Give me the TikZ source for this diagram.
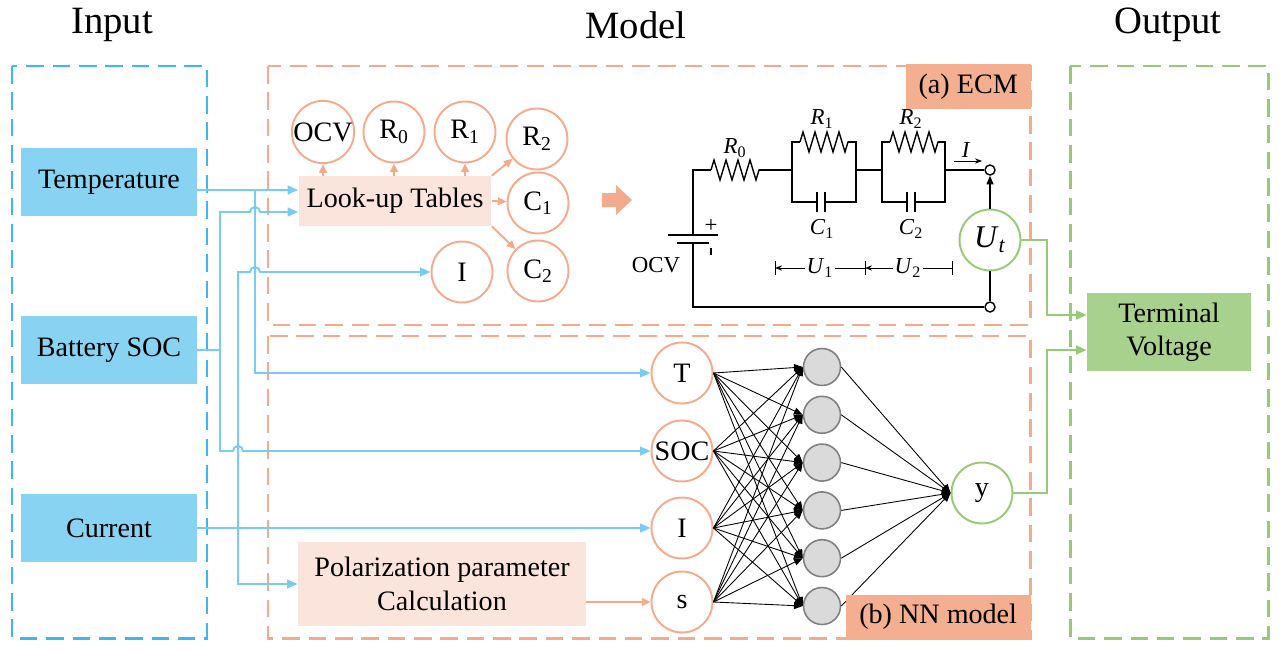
\documentclass[tikz,border=0pt]{standalone}
\usepackage{fontspec}
\setmainfont{Liberation Serif}
\usetikzlibrary{arrows.meta, positioning, calc, decorations.pathmorphing}

\definecolor{inblue}{RGB}{137,211,242}
\definecolor{inwire}{RGB}{120,204,242}
\definecolor{inframe}{RGB}{62,182,240}
\definecolor{mdframe}{RGB}{244,170,140}
\definecolor{mdfill}{RGB}{251,228,219}
\definecolor{mdtag}{RGB}{244,174,144}
\definecolor{outfill}{RGB}{169,209,142}
\definecolor{outwire}{RGB}{150,202,118}
\definecolor{neurongray}{RGB}{218,218,218}

\begin{document}
\begin{tikzpicture}[x=0.02cm, y=-0.02cm,
        font=\fontsize{16}{19}\selectfont,
        heading/.style={font=\fontsize{22}{26}\selectfont},
        region/.style={line width=1.7pt, dash pattern=on 10pt off 5pt},
        input box/.style={fill=inblue, minimum width=3.52cm, minimum height=1.36cm},
        calc box/.style={fill=mdfill, align=center, inner sep=0pt},
        model tag/.style={fill=mdtag, inner sep=0pt, minimum height=0.9cm},
        param/.style={circle, draw=mdframe, line width=1.1pt, minimum size=1.22cm, inner sep=0pt},
        neuron/.style={circle, draw=gray, fill=neurongray, line width=0.9pt, minimum size=0.74cm},
        output node/.style={circle, draw=outwire, line width=1.1pt, fill=white, minimum size=1.22cm, inner sep=0pt},
        feed/.style={draw=inwire, line width=1.1pt, -{Triangle[length=6pt, width=5pt]}},
        lookup/.style={draw=mdframe, line width=1.1pt, -{Triangle[length=5pt, width=4.5pt]}},
        synapse/.style={line width=0.5pt, -{Triangle[length=5pt, width=4pt]}},
        result/.style={draw=outwire, line width=1.1pt, -{Triangle[length=6pt, width=5pt]}},
        wire/.style={line width=0.8pt},
        resistor/.style={wire, decorate, decoration={zigzag, amplitude=0.2cm, segment length=0.24cm}},
        elem/.style={font=\fontsize{13}{15}\selectfont, inner sep=1pt}]

    \useasboundingbox (0,0) rectangle (1280,652);

    % Column headings
    \node[heading] (hin) at (112,25) {Input};
    \node[heading] (hmodel) at (636,25) {Model};
    \node[heading] (hout) at (1168,25) {Output};

    % Dashed frames
    \draw[region, draw=inframe] (12,66) rectangle (207,638);
    \draw[region, draw=mdframe] (268,66) rectangle (1030,325);
    \draw[region, draw=mdframe] (268,336) rectangle (1030,638);
    \draw[region, draw=outwire] (1070,66) rectangle (1268,638);

    % Inputs
    \node[input box] (temp) at (109,182) {Temperature};
    \node[input box] (soc) at (109,350) {Battery SOC};
    \node[input box] (cur) at (109,528) {Current};

    % Look-up tables and parameters
    \node[calc box, minimum width=3.86cm, minimum height=1cm] (lut) at (395,201) {Look-up Tables};
    \node[param] (pocv) at (323,132) {OCV};
    \node[param] (pr0) at (394,132) {R\textsubscript{0}};
    \node[param] (pr1) at (465,132) {R\textsubscript{1}};
    \node[param] (pr2) at (537,139) {R\textsubscript{2}};
    \node[param] (pc1) at (538,203) {C\textsubscript{1}};
    \node[param] (pc2) at (538,271) {C\textsubscript{2}};
    \node[param] (pi) at (462,272) {I};
    \foreach \p in {pocv,pr0,pr1}
        \draw[lookup] (lut.north -| \p) -- (\p.south);
    \draw[lookup] (lut.north east) -- (pr2);
    \draw[lookup] (lut.east) -- (pc1);
    \draw[lookup] (lut.south east) -- (pc2);

    % Block arrow to the circuit
    \fill[mdframe] (602,193) -- (616,193) -- (616,185) -- (632,200) -- (616,215) -- (616,207) -- (602,207) -- cycle;

    % Equivalent circuit
    \draw[wire] (693,235) -- (693,170) -- (711,170);
    \draw[resistor] (711,170) -- (759,170);
    \draw[wire] (759,170) -- (792,170);
    \draw[wire] (800,142) -- (792,142) -- (792,202) -- (817,202);
    \draw[resistor] (800,142) -- (848,142);
    \draw[wire] (848,142) -- (856,142) -- (856,202) -- (825,202);
    \draw[wire] (856,170) -- (882,170);
    \draw[wire] (890,142) -- (882,142) -- (882,202) -- (907,202);
    \draw[resistor] (890,142) -- (938,142);
    \draw[wire] (938,142) -- (945,142) -- (945,202) -- (915,202);
    \foreach \x in {817,825,907,915}
        \draw[wire] (\x,192) -- (\x,212);
    \draw[line width=1.6pt] (668,235) -- (718,235);
    \draw[line width=1.6pt] (677,243) -- (709,243);
    \draw[wire] (711,248) -- (711,255);
    \node[elem] (plus) at (711,226) {+};
    \node[elem] (locv) at (656,265) {OCV};
    \node[elem] (lr0) at (735,148) {\textit{R}\textsubscript{0}};
    \node[elem] (lr1) at (822,119) {\textit{R}\textsubscript{1}};
    \node[elem] (lr2) at (911,119) {\textit{R}\textsubscript{2}};
    \node[elem] (lc1) at (822,229) {\textit{C}\textsubscript{1}};
    \node[elem] (lc2) at (911,229) {\textit{C}\textsubscript{2}};
    \node[circle, draw, wire, fill=white, minimum size=0.2cm, inner sep=0pt] (tp) at (990,170) {};
    \node[circle, draw, wire, fill=white, minimum size=0.2cm, inner sep=0pt] (tn) at (990,307) {};
    \draw[wire] (945,170) -- (tp);
    \draw[wire] (693,243) -- (693,307) -- (tn);
    \node[output node, font=\fontsize{18}{21}\selectfont] (ut) at (990,240) {\textit{U}\textsubscript{\textit{t}}};
    \draw[wire, -{Triangle[length=5pt, width=4pt]}] (ut) -- (tp);
    \draw[wire] (ut) -- (tn);
    \node[elem] (lcur) at (966,150) {\textit{I}};
    \draw[line width=0.5pt, -{Stealth[length=4pt]}] (954,161) -- (982,161);

    % Polarization voltages
    \node[elem] (lu1) at (820,268) {\textit{U}\textsubscript{1}};
    \node[elem] (lu2) at (908,268) {\textit{U}\textsubscript{2}};
    \draw[line width=0.5pt, -{Stealth[length=4pt]}] (lu1.west) -- (775,268);
    \draw[line width=0.5pt] (lu1.east) -- (865,268);
    \draw[line width=0.5pt, -{Stealth[length=4pt]}] (lu2.west) -- (865,268);
    \draw[line width=0.5pt] (lu2.east) -- (952,268);
    \foreach \x in {775,865,952}
        \draw[line width=0.5pt] (\x,261) -- (\x,275);

    % Neural network
    \node[param] (nt) at (682,373) {T};
    \node[param] (nsoc) at (682,451) {SOC};
    \node[param] (ni) at (682,528) {I};
    \node[param] (ns) at (682,602) {s};
    \foreach \k in {1,...,6}
        \node[neuron] (h\k) at (822,{367+47.8*(\k-1)}) {};
    \node[output node] (ny) at (982,493) {y};
    \foreach \a in {nt,nsoc,ni,ns}
        \foreach \k in {1,...,6}
            \draw[synapse] (\a.east) -- (h\k.west);
    \foreach \k in {1,...,6}
        \draw[synapse] (h\k.east) -- (ny.west);

    \node[calc box, minimum width=5.76cm, minimum height=1.68cm] (pol) at (442,584) {Polarization parameter\\Calculation};
    \draw[lookup] (pol.east |- ns) -- (ns);

    % Input wiring
    \coordinate (tj) at (255,190);
    \coordinate (sj) at (220,350);
    \coordinate (cj) at (238,528);
    \coordinate (sl) at (220,212);
    \draw[feed] (temp.east |- tj) -- (lut.west |- tj);
    \draw[feed] (tj) |- (nt);
    \draw[feed, -] (soc.east) -- (sj);
    \draw[feed] (sj) -- (sl) -- ++(30,0) arc[start angle=180, end angle=360, radius=5] -- (lut.west |- sl);
    \draw[feed] (sj) -- (sj |- nsoc) -- ++(13,0) arc[start angle=180, end angle=360, radius=5] -- (nsoc);
    \draw[feed] (cur.east) -- (ni);
    \draw[feed] (cj) -- (cj |- pi) -- ++(12,0) arc[start angle=180, end angle=360, radius=5] -- (pi);
    \draw[feed] (cj) |- (pol);

    % Terminal voltage
    \node[fill=outfill, minimum width=3.28cm, minimum height=1.58cm, align=center] (term) at (1169,332) {Terminal\\Voltage};
    \coordinate (gx) at (1047,0);
    \draw[result] (ut.east) -- (ut.east -| gx) |- ([yshift=0.34cm]term.west);
    \draw[result] (ny.east) -- (ny.east -| gx) |- ([yshift=-0.36cm]term.west);

    % Model tags
    \node[model tag, minimum width=2.5cm, anchor=north east] (ecmtag) at (1031,64) {(a) ECM};
    \node[model tag, minimum width=3.7cm, anchor=south east] (nntag) at (1031,640) {(b) NN model};
\end{tikzpicture}
\end{document}
